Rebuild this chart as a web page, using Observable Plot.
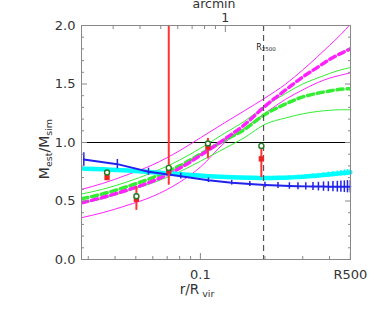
<!DOCTYPE html>
<html><head><meta charset="utf-8">
<script src="https://cdn.jsdelivr.net/npm/d3@7"></script>
<script src="https://cdn.jsdelivr.net/npm/@observablehq/plot@0.6"></script>
<style>
body{margin:0;background:#fff;}
#chart{width:374px;height:311px;}
svg{font-family:"DejaVu Sans",sans-serif;}
</style></head><body><div id="chart"></div>
<script>
// ---- data ----
const xGrid        = [0.028,0.035,0.045,0.06,0.08,0.1,0.13,0.16,0.2,0.25,0.3,0.35,0.4,0.45,0.5];
const magentaUpper = [0.60,0.65,0.72,0.81,0.93,1.04,1.17,1.27,1.38,1.50,1.62,1.73,1.83,1.92,2.01];
const magentaMid   = [0.485,0.53,0.59,0.67,0.78,0.89,1.03,1.15,1.31,1.45,1.56,1.64,1.71,1.76,1.80];
const magentaLower = [0.358,0.40,0.46,0.54,0.66,0.79,1.00,1.12,1.25,1.37,1.45,1.51,1.55,1.575,1.595];
const greenUpper   = [0.56,0.60,0.66,0.745,0.85,0.95,1.08,1.18,1.31,1.42,1.50,1.55,1.59,1.62,1.64];
const greenMid     = [0.52,0.56,0.62,0.70,0.80,0.90,1.02,1.11,1.24,1.33,1.39,1.42,1.44,1.455,1.46];
const greenLower   = [0.48,0.52,0.58,0.655,0.75,0.84,0.95,1.04,1.155,1.21,1.245,1.265,1.275,1.28,1.28];

const profX    = [0.0286,0.041,0.0573,0.081,0.109,0.14,0.17,0.2,0.23,0.26,0.285,0.31,0.335,0.355,0.375,0.395,0.415,0.435,0.452,0.469,0.485,0.5];
const blueY    = [0.855,0.815,0.75,0.712,0.678,0.656,0.645,0.637,0.632,0.628,0.626,0.625,0.624,0.623,0.623,0.622,0.622,0.622,0.622,0.622,0.622,0.622];
const blueErr  = [0.057,0.04,0.03,0.025,0.02,0.02,0.022,0.024,0.026,0.028,0.03,0.032,0.035,0.037,0.04,0.042,0.044,0.046,0.048,0.05,0.052,0.053];
const cyanY    = [0.775,0.765,0.748,0.728,0.712,0.703,0.699,0.697,0.698,0.701,0.705,0.709,0.714,0.718,0.722,0.726,0.730,0.734,0.737,0.740,0.743,0.745];
const cyanErr  = [0.008,0.008,0.008,0.009,0.01,0.011,0.012,0.013,0.014,0.015,0.016,0.017,0.018,0.019,0.02,0.021,0.022,0.023,0.024,0.025,0.026,0.027];

const ptX      = [0.0367,0.0503,0.0712,0.1084,0.1924];
const redY     = [0.70,0.515,0.755,0.962,0.86];
const redLo    = [0.685,0.42,0.635,0.86,0.70];
const redHi    = [0.715,0.62,2.5,1.035,0.99];
const circleY  = [0.744,0.541,0.783,0.991,0.971];

const r2500 = 0.197;
const arcminPerUnit = 0.1307;  // r/Rvir at 1 arcmin

const yMajor = [0,0.5,1,1.5,2];
const yMinor = d3.range(0,21).map(d=>d/10).filter(d=>!yMajor.includes(d));
const xMajor = [0.1,0.5];
const xMajorLabels = ["0.1","R500"];
const xMinor = [0.03,0.04,0.05,0.06,0.07,0.08,0.09,0.2,0.3,0.4];
const arcMajor = [1];
const arcMajorLabels = ["1"];
const arcMinor = [0.3,0.4,0.5,0.6,0.7,0.8,0.9,2];

// ---- build tables ----
const series = (ys) => xGrid.map((x,i)=>({x, y: ys[i]}));
const prof = profX.map((x,i)=>({x, b: blueY[i], be: blueErr[i], c: cyanY[i], ce: cyanErr[i]}));
const pts = ptX.map((x,i)=>({x, y: redY[i], lo: redLo[i], hi: redHi[i], c: circleY[i]}));
const xLab = xMajor.map((x,i)=>({x, t: xMajorLabels[i]}));
const arcLab = arcMajor.map((a,i)=>({x: a*arcminPerUnit, t: arcMajorLabels[i]}));

const MAG = "#ff22ff", GRN = "#33ee33", BLU = "#2222ee", CYA = "#00ffff", RED = "#ff3333", AX = "#888";
const thin = (ys, c) => Plot.line(series(ys), {x:"x", y:"y", stroke:c, strokeWidth:1, curve:"monotone-x", clip:"frame"});
const dash = (ys, c) => Plot.line(series(ys), {x:"x", y:"y", stroke:c, strokeWidth:3.5, strokeDasharray:"6,4", curve:"monotone-x", clip:"frame"});
const tickAx = (ticks, anchor, size, X) => (X ? Plot.axisX : Plot.axisY)(ticks, {anchor, tickSize:-size, fill:"none", label:null, stroke:AX});

const chart = Plot.plot({
  width: 374, height: 311,
  marginLeft: 81, marginRight: 24, marginTop: 25, marginBottom: 52,
  style: {fontFamily: "DejaVu Sans, sans-serif", fontSize: "13px", background: "white", overflow: "visible"},
  x: {type: "log", domain: [0.0279, 0.501], axis: null},
  y: {domain: [0, 2], axis: null},
  marks: [
    Plot.ruleY([1], {stroke:"#000", strokeWidth:1}),
    thin(magentaUpper, MAG), thin(magentaLower, MAG),
    thin(greenUpper, GRN), thin(greenLower, GRN),
    dash(greenMid, GRN), dash(magentaMid, MAG),
    Plot.line(prof, {x:"x", y:"c", stroke:CYA, strokeWidth:4.5, curve:"monotone-x"}),
    Plot.ruleX(prof, {x:"x", y1:d=>d.c-d.ce, y2:d=>d.c+d.ce, stroke:CYA, strokeWidth:1.5}),
    Plot.line(prof, {x:"x", y:"b", stroke:BLU, strokeWidth:2}),
    Plot.ruleX(prof, {x:"x", y1:d=>d.b-d.be, y2:d=>d.b+d.be, stroke:BLU, strokeWidth:1.5}),
    Plot.ruleX([r2500], {stroke:"#555", strokeWidth:1.2, strokeDasharray:"6,4"}),
    Plot.ruleX(pts, {x:"x", y1:"lo", y2:"hi", stroke:RED, strokeWidth:2, clip:"frame"}),
    Plot.dot(pts, {x:"x", y:"y", symbol:"square", r:3, fill:"#ee2222"}),
    Plot.dot(pts, {x:"x", y:"c", r:2.5, stroke:"#227a22", strokeWidth:1.4, fill:"white"}),
    Plot.frame({stroke: AX}),
    // inward ticks
    tickAx(xMinor, "bottom", 3, true), tickAx(xMajor, "bottom", 6, true),
    tickAx(arcMinor.map(a=>a*arcminPerUnit), "top", 3, true), tickAx(arcMajor.map(a=>a*arcminPerUnit), "top", 6, true),
    tickAx(yMinor, "left", 3, false), tickAx(yMajor, "left", 6, false),
    tickAx(yMinor, "right", 3, false), tickAx(yMajor, "right", 6, false),
    // tick labels
    Plot.axisY(yMajor, {anchor:"left", tickSize:0, tickPadding:6, tickFormat:d3.format(".1f"), label:null, fill:"#333", fontSize:13}),
    Plot.text(xLab, {x:"x", text:"t", frameAnchor:"bottom", dy:15, lineAnchor:"middle", fill:"#333", fontSize:13}),
    Plot.text(arcLab, {x:"x", text:"t", frameAnchor:"top", dy:-8, lineAnchor:"middle", fill:"#333", fontSize:12.5})
  ]
});
document.getElementById("chart").appendChild(chart);

// ---- axis titles with subscripts ----
const svg = d3.select(chart);
const xs = chart.scale("x");
const yl = svg.append("text").attr("transform","translate(49,149) rotate(-90)")
  .attr("text-anchor","middle").attr("font-size",14).attr("fill","#333");
yl.append("tspan").text("M");
yl.append("tspan").attr("font-size",9.5).attr("dy",3).text("est");
yl.append("tspan").attr("dy",-3).text("/M");
yl.append("tspan").attr("font-size",9.5).attr("dy",3).text("sim");

const xl = svg.append("text").attr("x",197).attr("y",294).attr("font-size",13.5).attr("fill","#333");
xl.append("tspan").text("r/R");
xl.append("tspan").attr("font-size",9.5).attr("dy",3).text(" vir");

svg.append("text").attr("x",214).attr("y",8).attr("text-anchor","middle")
  .attr("font-size",12.5).attr("fill","#333").text("arcmin");

const rl = svg.append("text").attr("x", xs.apply(r2500)+3).attr("y",49.5).attr("font-size",8).attr("fill","#222");
rl.append("tspan").text("R");
rl.append("tspan").attr("font-size",5.5).attr("dy",1).text("2500");
</script></body></html>
